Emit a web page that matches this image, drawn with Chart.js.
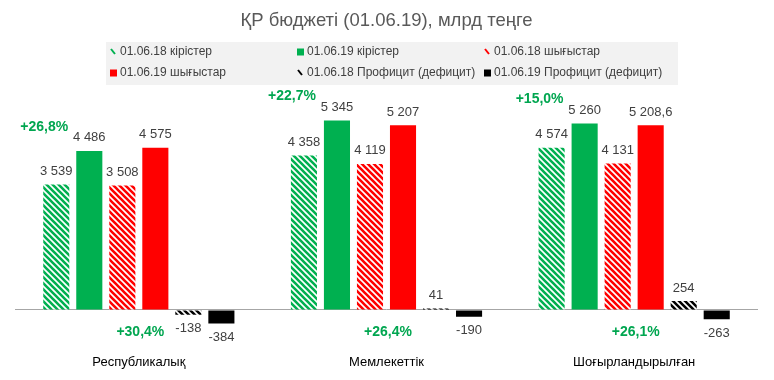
<!DOCTYPE html>
<html>
<head>
<meta charset="utf-8">
<script src="https://cdn.jsdelivr.net/npm/chart.js@4.4.0/dist/chart.umd.min.js"></script>
<style>
  body { margin: 0; background: #fff; }
  #wrap { width: 774px; height: 380px; }
</style>
</head>
<body>
<div id="wrap"><canvas id="budget"></canvas></div>
<script>
const categories = ['Республикалық', 'Мемлекеттік', 'Шоғырландырылған'];
const seriesNames = ['01.06.18 кірістер', '01.06.19 кірістер', '01.06.18 шығыстар', '01.06.19 шығыстар', '01.06.18 Профицит (дефицит)', '01.06.19 Профицит (дефицит)'];
const revenue18 = [3539, 4358, 4574];
const revenue19 = [4486, 5345, 5260];
const spending18 = [3508, 4119, 4131];
const spending19 = [4575, 5207, 5208.6];
const balance18 = [-138, 41, 254];
const balance19 = [-384, -190, -263];
const revenueGrowth = ['+26,8%', '+22,7%', '+15,0%'];
const spendingGrowth = ['+30,4%', '+26,4%', '+26,1%'];

const GREEN = '#00b050', RED = '#ff0000', BLACK = '#000000';
const FONT = '"Liberation Sans", Arial, sans-serif';

function hatch(color) {
    const c = document.createElement('canvas');
    c.width = c.height = 6;
    const g = c.getContext('2d');
    g.fillStyle = '#fff';
    g.fillRect(0, 0, 6, 6);
    g.strokeStyle = color;
    g.lineWidth = 2.6;
    g.beginPath();
    g.moveTo(-1, -1); g.lineTo(7, 7);
    g.moveTo(-1, 5); g.lineTo(1, 7);
    g.moveTo(5, -1); g.lineTo(7, 1);
    g.stroke();
    return g.createPattern(c, 'repeat');
}

function fmt(v) {
    const parts = Math.abs(v).toString().split('.');
    const int = parts[0].replace(/\B(?=(\d{3})+(?!\d))/g, ' ');
    return (v < 0 ? '-' : '') + int + (parts[1] ? ',' + parts[1] : '');
}

const legendKinds = ['hatch', 'solid', 'hatch', 'solid', 'hatch', 'solid'];
const legendColors = [GREEN, GREEN, RED, RED, BLACK, BLACK];

// value labels + growth percentages
const labelsPlugin = {
    id: 'labels',
    afterDatasetsDraw(chart) {
        const ctx = chart.ctx;
        ctx.save();
        ctx.font = '13px ' + FONT;
        ctx.fillStyle = '#404040';
        ctx.textAlign = 'center';
        ctx.textBaseline = 'middle';
        chart.data.datasets.forEach((ds, i) => {
            chart.getDatasetMeta(i).data.forEach((bar, j) => {
                const v = ds.data[j];
                const y = v < 0 ? bar.y + 14 : bar.y - 13;
                ctx.fillText(fmt(v), bar.x, y);
            });
        });
        ctx.font = 'bold 14px ' + FONT;
        ctx.fillStyle = '#00a650';
        const zero = chart.scales.y.getPixelForValue(0);
        categories.forEach((c, j) => {
            const first = chart.getDatasetMeta(0).data[j];
            const green = chart.getDatasetMeta(1).data[j];
            const red = chart.getDatasetMeta(3).data[j];
            ctx.fillText(revenueGrowth[j], first.x - 12, green.y - 24);
            ctx.fillText(spendingGrowth[j], red.x - 15, zero + 22);
        });
        ctx.restore();
    }
};

// excel style legend box, 3 columns
const legendPlugin = {
    id: 'boxLegend',
    afterDraw(chart) {
        const ctx = chart.ctx;
        ctx.save();
        ctx.fillStyle = '#f2f2f2';
        ctx.fillRect(106, 42, 572, 43);
        ctx.font = '12px ' + FONT;
        ctx.textBaseline = 'middle';
        const cols = [110, 297, 484];
        const rows = [52, 73];
        seriesNames.forEach((name, i) => {
            const x = cols[i % 3], y = rows[Math.floor(i / 3)];
            if (legendKinds[i] === 'solid') {
                ctx.fillStyle = legendColors[i];
                ctx.fillRect(x, y - 3.5, 7, 7);
            } else {
                ctx.strokeStyle = legendColors[i];
                ctx.lineWidth = 2;
                ctx.beginPath();
                ctx.moveTo(x + 1, y - 3);
                ctx.lineTo(x + 5, y + 2);
                ctx.stroke();
            }
            ctx.fillStyle = '#404040';
            ctx.fillText(name, x + 10, y);
        });
        ctx.restore();
    }
};

const values = [revenue18, revenue19, spending18, spending19, balance18, balance19];
const fills = [hatch(GREEN), GREEN, hatch(RED), RED, hatch(BLACK), BLACK];

new Chart(document.getElementById('budget'), {
    type: 'bar',
    data: {
        labels: categories,
        datasets: seriesNames.map((name, i) => ({
            label: name,
            data: values[i],
            backgroundColor: fills[i],
            borderWidth: 0,
            categoryPercentage: 0.8,
            barPercentage: 0.79
        }))
    },
    options: {
        responsive: true,
        maintainAspectRatio: false,
        animation: false,
        layout: { padding: { left: 15, right: 16, top: 0, bottom: 1 } },
        plugins: {
            legend: { display: false },
            tooltip: { enabled: false },
            title: {
                display: true,
                text: 'ҚР бюджеті (01.06.19), млрд теңге',
                color: '#595959',
                font: { family: FONT, size: 18.5, weight: 'normal' },
                padding: { top: 10, bottom: 65 }
            }
        },
        scales: {
            x: {
                grid: { display: false, drawTicks: false },
                border: { display: false },
                ticks: { color: '#000', font: { family: FONT, size: 13 }, padding: 9 }
            },
            y: {
                min: -1000,
                max: 6000,
                border: { display: false },
                ticks: { display: false },
                grid: {
                    drawTicks: false,
                    color: c => c.tick.value === 0 ? '#a6a6a6' : 'rgba(0,0,0,0)'
                }
            }
        }
    },
    plugins: [labelsPlugin, legendPlugin]
});
</script>
</body>
</html>
